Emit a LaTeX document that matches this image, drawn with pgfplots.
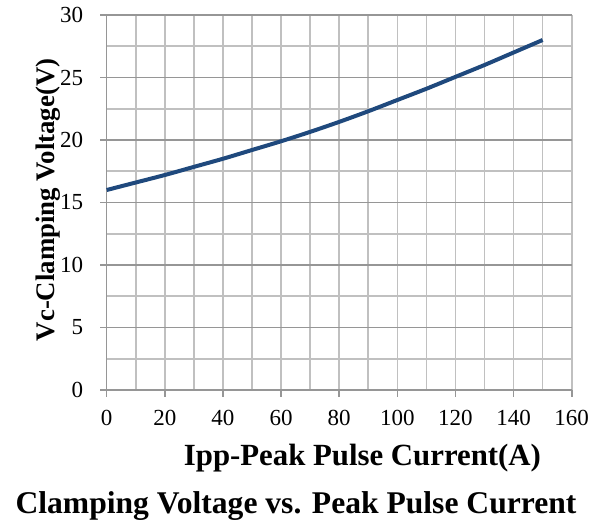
\documentclass[border=0pt]{standalone}
\usepackage{pgfplots}
\pgfplotsset{compat=1.18}
\usetikzlibrary{calc}
\usepackage{fontspec}
\setmainfont{Liberation Serif}
\definecolor{curve}{RGB}{31,73,125}
\definecolor{darkgrid}{RGB}{150,150,150}
\definecolor{lightgrid}{RGB}{192,192,192}
\begin{document}
\begin{tikzpicture}
\begin{axis}[
  scale only axis,
  width=232.5pt, height=187.5pt,
  xmin=0, xmax=160, ymin=0, ymax=30,
  xtick={0,20,...,160}, ytick={0,5,...,30},
  minor x tick num=1, minor y tick num=1,
  xmajorgrids, ymajorgrids, xminorgrids, yminorgrids,
  major x grid style={lightgrid, line width=0.8pt},
  minor x grid style={lightgrid, line width=0.8pt},
  major y grid style={darkgrid, line width=0.8pt},
  minor y grid style={lightgrid, line width=0.8pt},
  axis lines=left,
  axis line style={-, darkgrid, line width=0.8pt},
  tick style={darkgrid, line width=0.8pt},
  major tick length=3.3pt, minor tick length=0pt,
  tick align=outside,
  xtick pos=bottom, ytick pos=left,
  /pgf/number format/assume math mode=true,
  ticklabel style={font=\fontsize{11.5}{13}\selectfont},
  yticklabel style={xshift=-5pt},
  xticklabel style={yshift=-3.5pt},
  xlabel={\textbf{Ipp-Peak Pulse Current(A)}},
  xlabel style={font=\fontsize{15.4}{17}\selectfont, at={([yshift=-37.5pt]axis description cs:0.550,0)}, anchor=base},
  ylabel={\textbf{Vc-Clamping Voltage(V)}},
  ylabel style={font=\fontsize{13.4}{15}\selectfont, at={([xshift=-25.9pt]axis description cs:0,0.507)}, anchor=base},
  clip=false,
]
\addplot[curve, line width=2pt, smooth] coordinates {
(0,16) (10,16.6) (20,17.2) (30,17.85) (40,18.5) (50,19.2) (60,19.9) (70,20.65) (80,21.45) (90,22.3) (100,23.2) (110,24.1) (120,25.05) (130,26) (140,27) (150,28)
};
\end{axis}
\node[anchor=base, font=\fontsize{15.8}{18}\selectfont\bfseries] at ($(current axis.south west)+(94.65pt,-61.5pt)$) {Clamping Voltage vs. Peak Pulse Current};
\path (current axis.south west) ++(-53.35pt,-63.5pt) rectangle ++(305.5pt,258.5pt);
\end{tikzpicture}
\end{document}
